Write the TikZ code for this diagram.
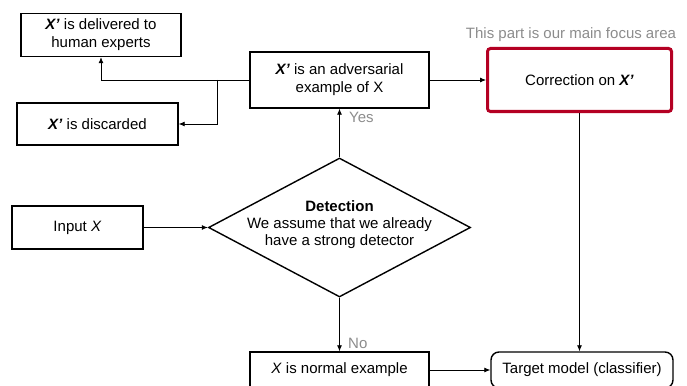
\documentclass[tikz,border=0pt]{standalone}
\usepackage{fontspec}
\setmainfont{Liberation Sans}
\usetikzlibrary{arrows.meta,shapes.geometric}
\definecolor{focusred}{RGB}{180,0,35}
\definecolor{labelgray}{RGB}{140,140,140}
\newcommand{\xp}{\textbf{\textit{X’}}}
\begin{document}
\begin{tikzpicture}[x=1pt,y=-1pt,
  font=\fontsize{15}{18}\selectfont,
  box/.style={draw=black,line width=1.4pt,rectangle,inner sep=0pt,align=center},
  arr/.style={draw=black,line width=0.8pt,-{Latex[length=6pt,width=5pt]}},
  lbl/.style={text=labelgray,inner sep=0pt}]
\useasboundingbox (0,0) rectangle (687,385);
\clip (0,0) rectangle (687,385);
% nodes
\node[box,minimum width=160pt,minimum height=43pt] (deliver) at (101,35) {\xp{} is delivered to\\human experts};
\node[box,minimum width=161pt,minimum height=42pt] (discard) at (97.5,124) {\xp{} is discarded};
\node[box,minimum width=179pt,minimum height=56pt] (adv) at (339.5,80) {\xp{} is an adversarial\\example of X};
\node[box,draw=focusred,line width=3pt,rounded corners=3pt,minimum width=184pt,minimum height=63pt] (corr) at (579.5,80) {Correction on \xp};
\node[lbl] (focus) at (571,35) {This part is our main focus area};
\node[box,minimum width=131pt,minimum height=43pt] (input) at (77.5,227.5) {Input \textit{X}};
\node[draw=black,line width=1.4pt,diamond,shape aspect=1.885,minimum width=262pt,minimum height=139pt,inner sep=0pt] (det) at (339.5,227.5) {};
\node[align=center,inner sep=0pt] (dettext) at (339.5,225) {\textbf{Detection}\\[-1pt]We assume that we already\\[-1pt]have a strong detector};
\node[box,minimum width=179pt,minimum height=36pt] (normal) at (339.5,370) {\textit{X} is normal example};
\node[box,rounded corners=8pt,minimum width=182pt,minimum height=36pt] (target) at (582,370) {Target model (classifier)};
% connectors
\coordinate (split) at (217,80);
\draw[arr] (adv.west) -| (deliver.south);
\draw[arr] (split) |- (discard.east);
\draw[arr] (adv.east) -- (corr.west);
\draw[arr] (corr.south) -- (corr.south |- target.north);
\draw[arr] (input.east) -- (det.west);
\draw[arr] (det.north) -- (adv.south);
\draw[arr] (det.south) -- (normal.north);
\draw[arr] (normal.east) -- (target.west);
\node[lbl,anchor=west] (yes) at (349,117) {Yes};
\node[lbl,anchor=west] (no) at (348,343) {No};
\end{tikzpicture}
\end{document}
